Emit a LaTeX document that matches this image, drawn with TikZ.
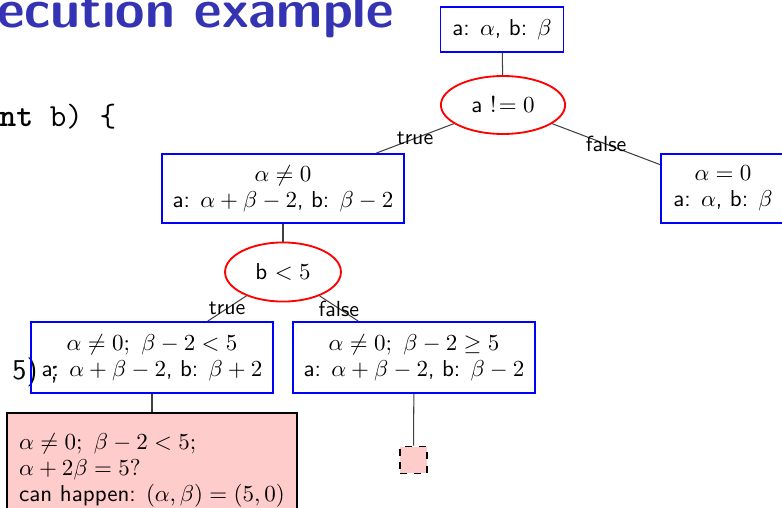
\documentclass[tikz,border=0pt]{standalone}
\usepackage{tikz}
\usepackage{amsmath}
\usetikzlibrary{shapes.geometric}

\definecolor{titleblue}{RGB}{51,51,179}
\definecolor{palered}{RGB}{255,204,204}

\begin{document}
\begin{tikzpicture}[x=0.4348pt, y=-0.4348pt,
    state/.style={draw=blue, line width=0.8pt, align=center, inner sep=0pt,
      font=\sffamily\fontsize{10}{11.5}\selectfont},
    cond/.style={ellipse, draw=red, line width=0.8pt, inner sep=0pt,
      font=\sffamily\fontsize{10}{11.5}\selectfont},
    edge/.style={draw=black!75, line width=0.45pt},
    lbl/.style={inner sep=0pt, font=\sffamily\fontsize{9.5}{11}\selectfont}]

  \useasboundingbox (0,0) rectangle (782,507);

  % Slide title and code behind the tree
  \node[anchor=base west, inner sep=0pt, text=titleblue,
    font=\sffamily\bfseries\fontsize{23.2}{27}\selectfont] (title) at (-3,27.5) {ecution example};
  \node[anchor=base west, inner sep=0pt,
    font=\ttfamily\fontsize{14}{16}\selectfont] (code) at (-1,126) {\textbf{nt} b) \{};
  \node[anchor=base west, inner sep=0pt,
    font=\sffamily\fontsize{12.5}{14}\selectfont] (codeend) at (12,379) {5)};
  \node[anchor=base west, inner sep=0pt,
    font=\sffamily\fontsize{12.5}{14}\selectfont] (semi) at (50,379) {;};

  % Root state
  \node[state, minimum width=53.5pt, minimum height=19.6pt] (root) at (502,29.5)
    {a: $\alpha$, b: $\beta$};

  % First branch: a != 0
  \node[cond, minimum width=54pt, minimum height=25.2pt] (c1) at (503,105) {a $!\!=0$};
  \node[state, minimum width=105pt, minimum height=30pt] (s1) at (283,188.5)
    {$\alpha \neq 0$\\ a: $\alpha + \beta - 2$, b: $\beta - 2$};
  \node[state, minimum width=54pt, minimum height=30pt] (s2) at (723,188.5)
    {$\alpha = 0$\\ a: $\alpha$, b: $\beta$};

  % Second branch: b < 5
  \node[cond, minimum width=50.4pt, minimum height=25.7pt] (c2) at (283,272) {b $<5$};
  \node[state, minimum width=105pt, minimum height=30.9pt] (s3) at (152,357.5)
    {$\alpha \neq 0;\ \beta - 2 < 5$\\ a: $\alpha + \beta - 2$, b: $\beta + 2$};
  \node[state, minimum width=105pt, minimum height=30.9pt] (s4) at (414,357.5)
    {$\alpha \neq 0;\ \beta - 2 \geq 5$\\ a: $\alpha + \beta - 2$, b: $\beta - 2$};

  % Leaves
  \node[anchor=north, draw=black, line width=0.8pt, fill=palered, align=left,
    inner xsep=5.3pt, inner ysep=5pt, minimum height=50pt,
    font=\sffamily\fontsize{10}{11.2}\selectfont] (hit) at (152,412)
    {$\alpha \neq 0;\ \beta - 2 < 5;$\\ $\alpha + 2\beta = 5?$\\ can happen: $(\alpha, \beta) = (5, 0)$};
  \node[draw=black, dashed, line width=0.8pt, fill=palered, inner sep=0pt,
    minimum size=11.7pt] (open) at (413.5,460) {};

  % Edges
  \draw[edge] (root) -- (c1);
  \draw[edge] (c1) -- node[lbl] {true} (s1);
  \draw[edge] (c1) -- node[lbl] {false} (s2);
  \draw[edge] (s1) -- (c2);
  \draw[edge] (c2) -- node[lbl] {true} (s3);
  \draw[edge] (c2) -- node[lbl] {false} (s4);
  \draw[edge] (s3) -- (hit);
  \draw[edge] (s4) -- (open);

\end{tikzpicture}
\end{document}
